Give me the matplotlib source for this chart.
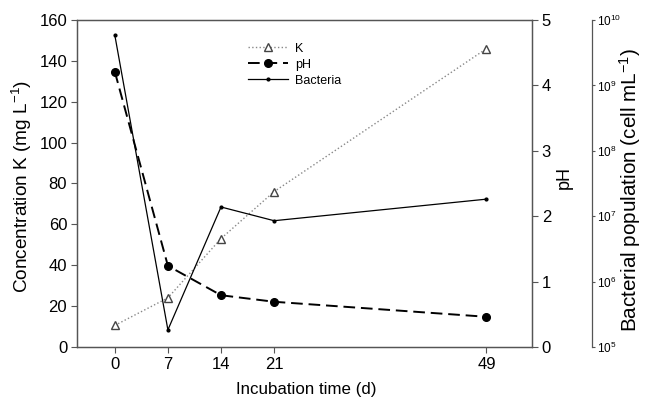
import numpy as np
import matplotlib.pyplot as plt
from matplotlib.ticker import LogFormatterSciNotation, NullLocator

plt.rcParams['font.family'] = ['Liberation Sans', 'DejaVu Sans']
plt.rcParams['mathtext.fontset'] = 'custom'
plt.rcParams['mathtext.rm'] = 'Liberation Sans'
plt.rcParams['mathtext.it'] = 'Liberation Sans'

days = [0, 7, 14, 21, 49]
potassium = [10.5, 24, 53, 76, 146]
ph = [4.21, 1.24, 0.79, 0.69, 0.46]
bacteria = [10**9.77, 10**5.26, 10**7.14, 10**6.93, 10**7.26]

spine_col = '#555555'

fig, ax = plt.subplots(figsize=(6.46, 4.01), dpi=100)
fig.subplots_adjust(left=0.119, right=0.8235, top=0.95, bottom=0.135)
ax2 = ax.twinx()
ax3 = ax.twinx()
ax3.spines['right'].set_position(('outward', 43))

l1, = ax.plot(days, potassium, ':', color='#888888', lw=1, marker='^',
              mfc='white', mec='#444444', ms=6, label='K')
l2, = ax2.plot(days, ph, '--', color='black', lw=1.4, dashes=(6, 3), marker='o',
               ms=5.5, label='pH')
l3, = ax3.plot(days, bacteria, '-', color='black', lw=0.9, marker='o',
               ms=2, label='Bacteria')

ax.set_xlim(-5, 55)
ax.set_ylim(0, 160)
ax.set_xticks(days)
ax.set_yticks(range(0, 161, 20))
ax2.set_ylim(0, 5)
ax2.set_yticks(range(0, 6))
ax3.set_yscale('log')
ax3.set_ylim(1e5, 1e10)
ax3.set_yticks([1e5, 1e6, 1e7, 1e8, 1e9, 1e10])
ax3.yaxis.set_major_formatter(LogFormatterSciNotation())
ax3.yaxis.set_minor_locator(NullLocator())

for a in (ax, ax2, ax3):
    for s in a.spines.values():
        s.set_color(spine_col)
        s.set_linewidth(0.9)
    a.tick_params(colors=spine_col, labelcolor='black', labelsize=12,
                  length=4, pad=3)
ax3.tick_params(labelsize=8.5, length=2.5, pad=1.5)
for s in ('left', 'top', 'bottom'):
    ax3.spines[s].set_visible(False)

ax.set_xlabel('Incubation time (d)', fontsize=12)
ax.set_ylabel('Concentration K (mg L$^{-1}$)', fontsize=13)
ax2.set_ylabel('pH', fontsize=13)
ax3.set_ylabel('Bacterial population (cell mL$^{-1}$)', fontsize=13)

# label centres placed where the reference has them (axes fraction)
ax.xaxis.set_label_coords(0.505, -0.131)
ax.yaxis.set_label_coords(-0.121, 0.491)
ax2.yaxis.set_label_coords(1.072, 0.517)
ax3.yaxis.set_label_coords(1.216, 0.48)
for lab in (ax.xaxis.label, ax.yaxis.label, ax2.yaxis.label, ax3.yaxis.label):
    lab.set_va('center')
    lab.set_ha('center')

# scale label sizes to the lengths measured on the reference (pixels)
fig.canvas.draw()
r = fig.canvas.get_renderer()
for lab, target, vertical in ((ax.xaxis.label, 140, False),
                              (ax.yaxis.label, 213, True),
                              (ax3.yaxis.label, 283, True)):
    bb = lab.get_window_extent(r)
    size = bb.height if vertical else bb.width
    lab.set_fontsize(lab.get_fontsize() * target / size)

ax.legend(handles=[l1, l2, l3], loc='upper left', bbox_to_anchor=(0.362, 0.95),
          frameon=False, fontsize=9, handlelength=3.2, handletextpad=0.6,
          labelspacing=0.32, borderpad=0)

fig.savefig('out.png', dpi=100)
